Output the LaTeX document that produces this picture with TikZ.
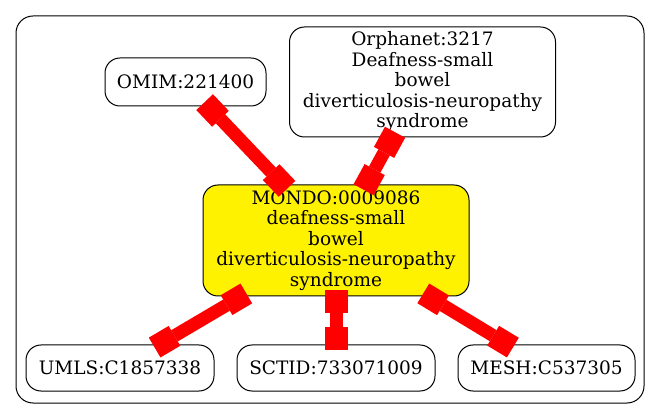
\documentclass[tikz,border=0pt]{standalone}
\usepackage{fontspec}
\setmainfont{DejaVu Serif}
\usetikzlibrary{arrows.meta}
\begin{document}
\begin{tikzpicture}[x=1pt,y=-1pt,
  box/.style={draw=black, line width=1pt, rounded corners=15pt, align=center, inner sep=0pt, font=\fontsize{18.5}{20.5}\selectfont},
  link/.style={draw=red, line width=13pt, {Square[length=23pt,width=23pt,line width=0pt]}-{Square[length=23pt,width=23pt,line width=0pt]}, shorten <=-6pt, shorten >=-6pt}
]
\useasboundingbox (0,0) rectangle (661,419);
\draw[line width=1pt, rounded corners=17pt] (16,16) rectangle (644,403);
\node[box, minimum width=161pt, minimum height=48pt] (omim) at (185.5,82) {OMIM:221400};
\node[box, minimum width=266pt, minimum height=110pt] (orpha) at (422.5,82) {Orphanet:3217\\Deafness-small\\bowel\\diverticulosis-neuropathy\\syndrome};
\node[box, fill=yellow, minimum width=266pt, minimum height=111pt] (mondo) at (336,240.5) {MONDO:0009086\\deafness-small\\bowel\\diverticulosis-neuropathy\\syndrome};
\node[box, minimum width=188pt, minimum height=46pt] (umls) at (120,368) {UMLS:C1857338};
\node[box, minimum width=198pt, minimum height=46pt] (sctid) at (336,368) {SCTID:733071009};
\node[box, minimum width=177pt, minimum height=46pt] (mesh) at (546.5,368) {MESH:C537305};
\draw[link] (omim) -- (mondo);
\draw[link] (orpha) -- (mondo);
\draw[link] (mondo) -- (umls);
\draw[link] (mondo) -- (sctid);
\draw[link] (mondo) -- (mesh);
\end{tikzpicture}
\end{document}
